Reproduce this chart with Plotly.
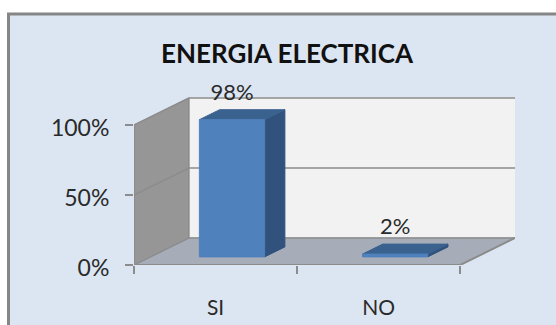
import plotly.graph_objects as go

categories = ["SI", "NO"]
values = [98, 2]
value_labels = ["98%", "2%"]
y_ticks = [0, 50, 100]
y_tick_labels = ["0%", "50%", "100%"]
title = "ENERGIA ELECTRICA"

W, H = 556, 325
LEFT, RIGHT, BOTTOM = 134, 515, 265
PX_PER_UNIT = 1.4
# oblique projection of the fake 3D box, in axis units
DX, DY = 0.336, 19.3
BAR_W = 0.4
BAR_START, BAR_DEPTH = 0.3, 0.37
LABEL_LIFT = 18
YTOP = 135

GRID = "#8C8C8C"
FONT = "Lato"
TXT = "#2A2A2A"


def poly(xs, ys, fill, line=None, lw=1):
    return go.Scatter(
        x=xs + xs[:1], y=ys + ys[:1], mode="lines", fill="toself", fillcolor=fill,
        line=dict(color=line or fill, width=lw), hoverinfo="skip", cliponaxis=False,
    )


def seg(xs, ys, width=1.5):
    return go.Scatter(x=xs, y=ys, mode="lines", line=dict(color=GRID, width=width),
                      hoverinfo="skip", cliponaxis=False)


n = len(categories)
ymax = max(y_ticks)
fig = go.Figure()

# walls and floor
fig.add_trace(poly([DX, n + DX, n + DX, DX], [DY, DY, ymax + DY, ymax + DY], "#F2F2F2"))
fig.add_trace(poly([0, DX, DX, 0], [0, DY, ymax + DY, ymax], "#969696"))
fig.add_trace(poly([0, n, n + DX, DX], [0, 0, DY, DY], "#A7ADB8"))

# gridlines across left wall and back wall
for t in y_ticks:
    fig.add_trace(seg([0, DX, n + DX], [t, t + DY, t + DY]))
fig.add_trace(seg([DX, DX], [DY, ymax + DY]))
fig.add_trace(seg([0, 0], [0, ymax], 2))
fig.add_trace(seg([0, n, n + DX], [0, 0, DY], 2))

# bars
centers = [i + 0.5 for i in range(n)]
for c, v in zip(centers, values):
    x0 = c - BAR_W / 2 + BAR_START * DX
    x1 = c + BAR_W / 2 + BAR_START * DX
    b = BAR_START * DY
    ox, oy = BAR_DEPTH * DX, BAR_DEPTH * DY
    fig.add_trace(poly([x1, x1 + ox, x1 + ox, x1], [b, b + oy, b + v + oy, b + v], "#30527C"))
    fig.add_trace(poly([x0, x1, x1 + ox, x0 + ox], [b + v, b + v, b + v + oy, b + v + oy], "#3A628F"))
    fig.add_trace(poly([x0, x1, x1, x0], [b, b, b + v, b + v], "#4F81BD"))

# data labels
fig.add_trace(go.Scatter(
    x=[c + BAR_START * DX for c in centers],
    y=[v + BAR_START * DY + LABEL_LIFT for v in values],
    text=value_labels, mode="text", textposition="middle center",
    textfont=dict(family=FONT, size=22, color=TXT), hoverinfo="skip", cliponaxis=False,
))

top_px = BOTTOM - YTOP * PX_PER_UNIT
fig.update_layout(
    width=W, height=H, showlegend=False, paper_bgcolor="white", plot_bgcolor="rgba(0,0,0,0)",
    margin=dict(l=0, r=0, t=0, b=0),
    title=dict(text=f"<b>{title}</b>", x=287 / W, y=1 - 54 / H, xanchor="center", yanchor="middle",
               font=dict(family=FONT, size=26, color="#111111")),
    xaxis=dict(
        automargin=False,
        domain=[LEFT / W, RIGHT / W], range=[0, n + DX], showgrid=False, zeroline=False, showline=False,
        tickmode="array", tickvals=centers, ticktext=categories, ticks="outside", ticklen=30,
        tickcolor="rgba(0,0,0,0)", tickfont=dict(family=FONT, size=21, color=TXT),
        ticklabelstandoff=-6,
        minor=dict(tickmode="array", tickvals=list(range(n + 1)), ticks="outside", ticklen=8,
                   tickcolor=GRID, tickwidth=2, showgrid=False),
    ),
    yaxis=dict(
        automargin=False,
        domain=[1 - BOTTOM / H, 1 - top_px / H], range=[0, YTOP], showgrid=False, zeroline=False,
        showline=False, tickmode="array", tickvals=y_ticks, ticktext=y_tick_labels, ticks="outside",
        ticklen=8, tickcolor=GRID, tickwidth=2, tickfont=dict(family=FONT, size=23, color=TXT),
        ticklabelstandoff=11, ticklabelshift=3,
    ),
    shapes=[dict(type="rect", xref="paper", yref="paper", x0=8.5 / W, x1=1.02, y0=-0.02, y1=1 - 14 / H,
                 fillcolor="#DCE6F2", line=dict(color="#868686", width=3), layer="below")],
)

fig.write_html("out.html", config={"displayModeBar": False},
               post_script="document.body.style.margin='0';")
